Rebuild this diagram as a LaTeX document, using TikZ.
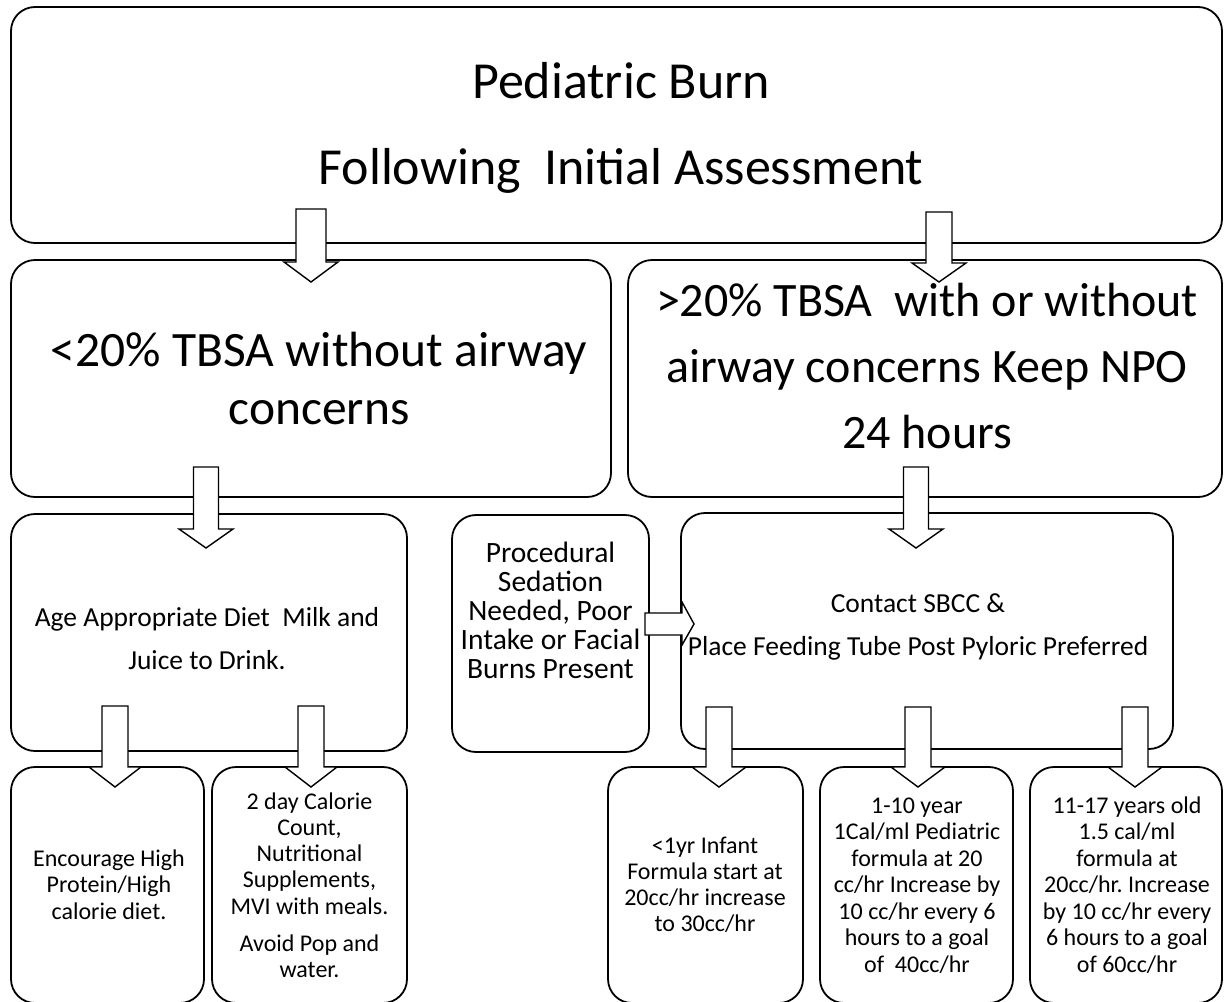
\documentclass[tikz,border=0pt]{standalone}
\usepackage{fontspec}
\setmainfont{Carlito}
\usetikzlibrary{calc}
\frenchspacing
\newcommand{\setfs}[2]{\fontsize{#1pt}{#2pt}\selectfont\frenchspacing}
\newcommand{\lines}[1]{\vtop{\lineskiplimit=-\maxdimen\halign{\hfil##\hfil\cr#1\crcr}}}
% block arrow pointing down: #1 x, #2 source node, #3 target node, #4 rise above source bottom,
% #5 wing depth below target top, #6 head length, #7 shaft half width, #8 head half width
\newcommand{\blockdown}[8]{%
  \draw[barrow] let \p1=(#2.south), \p2=(#3.north) in
    (#1pt-#7pt, \y1+#4pt) -- (#1pt+#7pt, \y1+#4pt) -- (#1pt+#7pt, \y2-#5pt)
    -- (#1pt+#8pt, \y2-#5pt) -- (#1pt, \y2-#5pt-#6pt) -- (#1pt-#8pt, \y2-#5pt)
    -- (#1pt-#7pt, \y2-#5pt) -- cycle;}
\begin{document}
\begin{tikzpicture}[x=1pt,y=-1pt,
  box/.style={draw=black, line width=1.8pt, rounded corners=24pt, fill=white,
    inner sep=0pt, outer sep=0pt},
  barrow/.style={draw=black, line width=1.4pt, fill=white, line join=miter},
  txt/.style={anchor=base, inner sep=0pt, text=black}]
\useasboundingbox (0,0) rectangle (1230,1001);
\fill[white] (0,0) rectangle (1230,1001);

% boxes
\node[box, minimum width=1211pt, minimum height=236pt] (top) at (616.5,125) {};
\node[box, minimum width=600pt,  minimum height=237pt] (A)   at (311,378.5) {};
\node[box, minimum width=594pt,  minimum height=237pt] (B)   at (925,378.5) {};
\node[box, minimum width=396pt,  minimum height=237pt] (C)   at (209,632.5) {};
\node[box, minimum width=197pt,  minimum height=237pt] (D)   at (550.5,633.5) {};
\node[box, minimum width=492pt,  minimum height=236pt] (E)   at (927,631) {};
\node[box, minimum width=193pt,  minimum height=236pt] (F)   at (107.5,885) {};
\node[box, minimum width=195pt,  minimum height=236pt] (G)   at (309.5,885) {};
\node[box, minimum width=195pt,  minimum height=236pt] (H)   at (705.5,885) {};
\node[box, minimum width=193pt,  minimum height=236pt] (I)   at (916.5,885) {};
\node[box, minimum width=192pt,  minimum height=236pt] (J)   at (1126,885) {};

% texts
\node[txt, font=\setfs{52}{86}] (tTop) at (621,98)
  {\lines{Pediatric Burn\cr Following\ \ Initial Assessment}};
\node[txt, font=\setfs{49.5}{58}] (tA) at (319,366)
  {\lines{<20\% TBSA without airway\cr concerns}};
\node[txt, font=\setfs{48}{66}] (tB) at (927,316)
  {\lines{>20\% TBSA\ \ with or without\cr airway concerns Keep NPO\cr 24 hours}};
\node[txt, font=\setfs{27.5}{43}] (tC) at (207,626)
  {\lines{Age Appropriate Diet\ \ Milk and\cr Juice to Drink.}};
\node[txt, font=\setfs{29.5}{29}] (tD) at (550.5,562)
  {\lines{Procedural\cr Sedation\cr Needed, Poor\cr Intake or Facial\cr Burns Present}};
\node[txt, font=\setfs{27.5}{43}] (tE) at (918,612)
  {\lines{Contact SBCC \&\cr Place Feeding Tube Post Pyloric Preferred}};
\node[txt, font=\setfs{24}{26.5}] (tF) at (109,866)
  {\lines{Encourage High\cr Protein/High\cr calorie diet.}};
\node[txt, font=\setfs{24}{26.3}] (tG) at (309.5,809)
  {\lines{2 day Calorie\cr Count,\cr Nutritional\cr Supplements,\cr MVI with meals.\cr\noalign{\vskip 11pt} Avoid Pop and\cr water.}};
\node[txt, font=\setfs{24}{26.3}] (tH) at (705,853)
  {\lines{<1yr Infant\cr Formula start at\cr 20cc/hr increase\cr to 30cc/hr}};
\node[txt, font=\setfs{24}{26.5}] (tI) at (917,813)
  {\lines{1-10 year\cr 1Cal/ml Pediatric\cr formula at 20\cr cc/hr Increase by\cr 10 cc/hr every 6\cr hours to a goal\cr of\ \ 40cc/hr}};
\node[txt, font=\setfs{24}{26.5}] (tJ) at (1127,813)
  {\lines{11-17 years old\cr 1.5 cal/ml\cr formula at\cr 20cc/hr. Increase\cr by 10 cc/hr every\cr 6 hours to a goal\cr of 60cc/hr}};

% block arrows
\blockdown{311}{top}{A}{34}{2}{20}{15}{27}
\blockdown{939}{top}{B}{31}{3}{19}{13}{27}
\blockdown{206}{A}{C}{30}{15}{19}{12.5}{27}
\blockdown{916}{B}{E}{30}{16}{19}{12.5}{27}
\blockdown{115}{C}{F}{45}{0}{20}{13}{26}
\blockdown{311}{C}{G}{45}{0}{20}{13}{26}
\blockdown{719}{E}{H}{42}{0}{20}{13}{27}
\blockdown{918}{E}{I}{42}{0}{20}{13}{27}
\blockdown{1135}{E}{J}{42}{0}{20}{13}{27}
% horizontal block arrow D -> E
\draw[barrow] let \p1=(D.east), \p2=(E.west) in
  (\x1-4pt, 613) -- (\x2+1pt, 613) -- (\x2+1pt, 602) -- (\x2+13pt, 624)
  -- (\x2+1pt, 645) -- (\x2+1pt, 635) -- (\x1-4pt, 635) -- cycle;
\end{tikzpicture}
\end{document}
